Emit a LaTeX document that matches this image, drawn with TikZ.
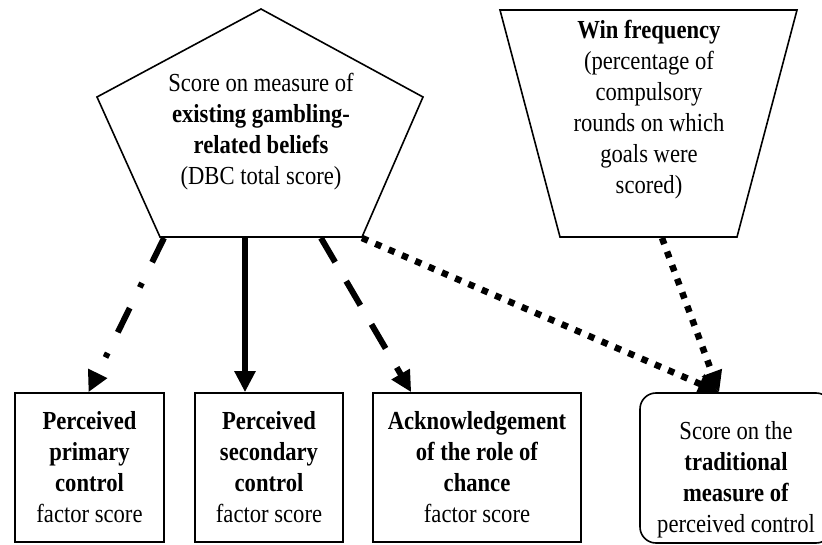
\documentclass[tikz,border=0pt]{standalone}
\usepackage{fontspec}
\setmainfont[FakeStretch=0.87]{Liberation Serif}
\usetikzlibrary{arrows.meta,calc}
\begin{document}
\begin{tikzpicture}[x=1pt,y=-1pt,
  shapeline/.style={draw=black, line width=1.6pt, line join=miter},
  txt/.style={align=center, font=\fontsize{26}{31}\selectfont, inner sep=0pt},
  boxnode/.style={shapeline, txt, minimum width=#1, minimum height=149pt},
  roundnode/.style={shapeline, txt, rounded corners=16pt, minimum width=192pt, minimum height=150pt},
  arr/.style={line width=6pt, line cap=butt, -{Triangle[length=21pt,width=20pt]}},
  dashdotline/.style={arr, dash pattern=on 27pt off 23pt on 5pt off 23pt},
  dashline/.style={arr, dash pattern=on 28pt off 22pt},
  dotline/.style={arr, line width=6.5pt, dash pattern=on 6.5pt off 8pt}
]
\clip (0,0) rectangle (822,545);
\fill[white] (0,0) rectangle (822,545);

% pentagon
\coordinate (p1) at (261,9);
\coordinate (p2) at (423,97);
\coordinate (p3) at (362,237);
\coordinate (p4) at (160,237);
\coordinate (p5) at (97,97);
\draw[shapeline] (p1) -- (p2) -- (p3) -- (p4) -- (p5) -- cycle;
\node[txt] (ptext) at (261,132) {Score on measure of\\\textbf{existing gambling-}\\\textbf{related beliefs}\\(DBC total score)};

% trapezoid
\coordinate (t1) at (500,10);
\coordinate (t2) at (797,10);
\coordinate (t3) at (737,237);
\coordinate (t4) at (560,237);
\draw[shapeline] (t1) -- (t2) -- (t3) -- (t4) -- cycle;
\node[txt] (ttext) at (649,110) {\textbf{Win frequency}\\(percentage of\\compulsory\\rounds on which\\goals were\\scored)};

% boxes
\node[boxnode=149pt] (b1) at (89.5,467.5) {\textbf{Perceived}\\\textbf{primary}\\\textbf{control}\\factor score};
\node[boxnode=148pt] (b2) at (269,467.5) {\textbf{Perceived}\\\textbf{secondary}\\\textbf{control}\\factor score};
\node[boxnode=208pt] (b3) at (477,467.5) {\textbf{Acknowledgement}\\\textbf{of the role of}\\\textbf{chance}\\factor score};
\node[roundnode] (r) at (736,468) {\rule{0pt}{42pt}Score on the\\\textbf{traditional}\\\textbf{measure of}\\perceived control};

% connector start points
\coordinate (s1) at (164,238);
\coordinate (s2) at (245,238);
\coordinate (s3) at (321,238);
\coordinate (s4) at (362,238);
\coordinate (s5) at (662,238);

\draw[dashdotline] (s1) -- ([xshift=-1pt]b1.north);
\draw[arr] (s2) -- (s2 |- b2.north);
\draw[dashline] (s3) -- ([xshift=39pt]b3.north west);
\draw[dotline] (s4) -- ([xshift=80pt]r.north west);
\draw[dotline] (s5) -- ([xshift=80pt]r.north west);
\end{tikzpicture}
\end{document}
